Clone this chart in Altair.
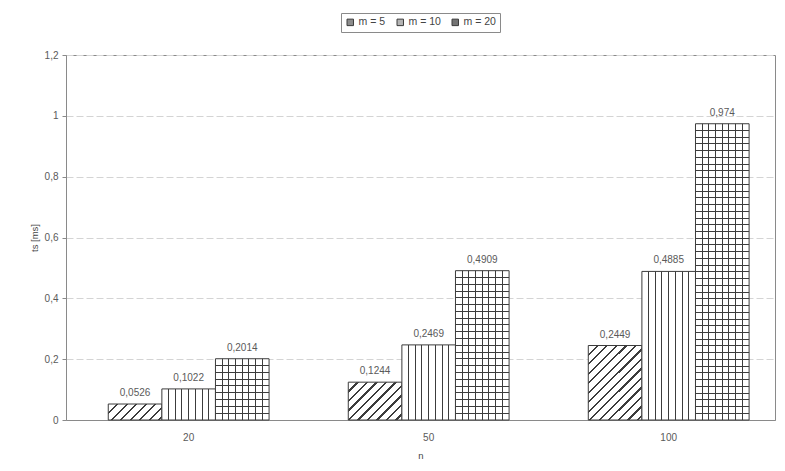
import math
import altair as alt
import pandas as pd

# ---- data ----
n_values = [20, 50, 100]
m_values = [5, 10, 20]
ts_m5 = [0.0526, 0.1244, 0.2449]
ts_m10 = [0.1022, 0.2469, 0.4885]
ts_m20 = [0.2014, 0.4909, 0.974]

rows = []
for m, series in zip(m_values, [ts_m5, ts_m10, ts_m20]):
    for n, v in zip(n_values, series):
        rows.append({"n": n, "m": m, "ts": v, "label": str(v).replace(".", ",")})
df = pd.DataFrame(rows)

# ---- layout / style constants ----
PLOT_W, PLOT_H = 709, 365
Y_MAX = 1.2
PX_PER_UNIT = PLOT_H / Y_MAX
STEP = 240.0
P_INNER = 0.33
BAR_W = STEP * (1 - P_INNER) / 3
INK = "#3c3c3c"
AXIS_GRAY = "#8a8a8a"
TEXT_GRAY = "#5a5a5a"
FONT = "Liberation Sans"
CLEAR = "rgba(255,255,255,0)"


def stops_from_centers(centers, half, ink, bg):
    stops = []
    for c in centers:
        a = max(c - half, 0.0)
        b = min(c + half, 1.0)
        stops += [
            {"offset": a, "color": bg},
            {"offset": a, "color": ink},
            {"offset": b, "color": ink},
            {"offset": b, "color": bg},
        ]
    return stops


def vertical_lines(n_inner=7, lw=1.0):
    centers = [(i + 1) / (n_inner + 1) for i in range(n_inner)]
    return {"gradient": "linear", "x1": 0, "y1": 0, "x2": 1, "y2": 0,
            "stops": stops_from_centers(centers, lw / BAR_W / 2, INK, "white")}


def horizontal_lines(value, spacing=6.7, lw=1.0):
    h = value * PX_PER_UNIT
    n_rows = max(1, round(h / spacing))
    centers = [(i + 1) / n_rows for i in range(n_rows - 1)]
    return {"gradient": "linear", "x1": 0, "y1": 0, "x2": 0, "y2": 1,
            "stops": stops_from_centers(centers, lw / h / 2, INK, CLEAR)}


def diagonal_lines(value, spacing=9.5, lw=2.4):
    w = BAR_W
    h = value * PX_PER_UNIT
    r = h / w
    k = (1 + r) / (1 + r * r)
    total = w + h
    centers = [j * spacing / total for j in range(1, int(total / spacing) + 1)]
    return {"gradient": "linear", "x1": 0, "y1": 0, "x2": k, "y2": k * r,
            "stops": stops_from_centers(centers, lw / total / 2, INK, "white")}


x_enc = alt.X(
    "n:N",
    scale=alt.Scale(domain=n_values, paddingInner=P_INNER, paddingOuter=0.142, align=0.62),
    axis=alt.Axis(title="n", labelAngle=0, ticks=False, tickSize=0, labelPadding=12,
                  titlePadding=8, domainColor=AXIS_GRAY, grid=False),
)
xoff_enc = alt.XOffset("m:N", scale=alt.Scale(domain=m_values, paddingInner=0, paddingOuter=0))
y_enc = alt.Y(
    "ts:Q",
    scale=alt.Scale(domain=[0, Y_MAX], nice=False),
    axis=alt.Axis(
        title="ts [ms]",
        values=[0, 0.2, 0.4, 0.6, 0.8, 1.0, 1.2],
        labelExpr="replace(format(datum.value, '.1~f'), '.', ',')",
        tickSize=4, tickColor=AXIS_GRAY, domainColor=AXIS_GRAY,
        grid=True, gridColor="#d4d4d4", gridDash=[7, 3],
        labelPadding=4, titlePadding=5,
    ),
)

base = alt.Chart(df).encode(x=x_enc, xOffset=xoff_enc, y=y_enc)

layers = []
# m = 5 : diagonal hatch, one gradient per bar
for n, v in zip(n_values, ts_m5):
    layers.append(
        base.transform_filter((alt.datum.m == 5) & (alt.datum.n == n))
        .mark_bar(fill=diagonal_lines(v), stroke=INK, strokeWidth=1)
    )
# m = 10 : vertical lines
layers.append(
    base.transform_filter(alt.datum.m == 10)
    .mark_bar(fill=vertical_lines(), stroke=INK, strokeWidth=1)
)
# m = 20 : grid
layers.append(
    base.transform_filter(alt.datum.m == 20)
    .mark_bar(fill=vertical_lines(), stroke=INK, strokeWidth=1)
)
for n, v in zip(n_values, ts_m20):
    layers.append(
        base.transform_filter((alt.datum.m == 20) & (alt.datum.n == n))
        .mark_bar(fill=horizontal_lines(v), strokeWidth=0)
    )

# value labels
layers.append(
    base.mark_text(baseline="bottom", dy=-6, font=FONT, fontSize=10, color=TEXT_GRAY)
    .encode(text="label:N")
)

# legend (invisible carrier layer)
layers.append(
    base.mark_square(size=1, opacity=0).encode(
        color=alt.Color(
            "m:N",
            scale=alt.Scale(domain=m_values, range=["#8c8c8c", "#b4b4b4", "#747474"]),
            legend=alt.Legend(
                title=None, orient="none", direction="horizontal",
                legendX=275, legendY=-42,
                labelExpr="'m = ' + datum.label",
                symbolType="square", symbolSize=42, symbolOpacity=1,
                symbolStrokeColor=INK, symbolStrokeWidth=1,
                labelFont=FONT, labelFontSize=10.5, labelColor="#444444",
                labelOffset=3, columnPadding=9,
                strokeColor=AXIS_GRAY, padding=4,
            ),
        )
    )
)

chart = (
    alt.layer(*layers)
    .properties(
        width=PLOT_W, height=PLOT_H,
        autosize=alt.AutoSizeParams(type="none"),
        padding={"left": 58, "top": 47, "right": 2, "bottom": 42},
        background="white",
    )
    .configure_view(stroke=AXIS_GRAY, strokeWidth=1)
    .configure_axis(labelFont=FONT, titleFont=FONT, labelFontSize=10, titleFontSize=9.5,
                    labelColor=TEXT_GRAY, titleColor="#444444", titleFontWeight="normal")
)

chart.save("out.html", embed_options={"renderer": "svg", "actions": False})
